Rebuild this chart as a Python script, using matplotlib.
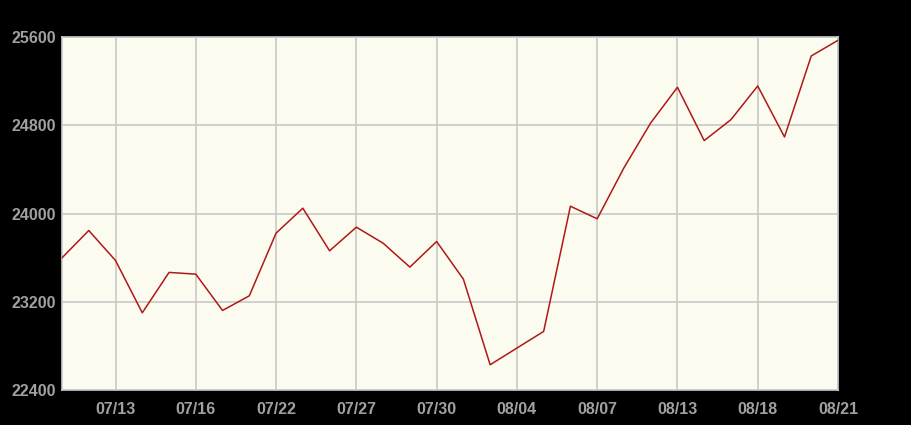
import matplotlib
matplotlib.use("Agg")
import matplotlib.pyplot as plt

dates = ["07/09", "07/12", "07/13", "07/14", "07/15", "07/16", "07/19", "07/20",
         "07/22", "07/23", "07/26", "07/27", "07/28", "07/29", "07/30", "08/02",
         "08/03", "08/04", "08/05", "08/06", "08/07", "08/10", "08/11", "08/13",
         "08/16", "08/17", "08/18", "08/19", "08/20", "08/21"]
values = [23598, 23846, 23574, 23100, 23466, 23450, 23121, 23254,
          23822, 24048, 23662, 23876, 23731, 23514, 23746, 23405,
          22629, 22780, 22931, 24066, 23952, 24414, 24821, 25144,
          24661, 24851, 25156, 24694, 25428, 25570]
y_ticks = [22400, 23200, 24000, 24800, 25600]

fig = plt.figure(figsize=(9.12, 4.25), dpi=100, facecolor="black")
ax = fig.add_axes([62/912, 1 - 390/425, (838-62)/912, (390-37)/425])
ax.set_facecolor("#fbfbef")

x = list(range(len(dates)))
ax.plot(x, values, color="#b01818", linewidth=1.1, zorder=3)

ax.set_xlim(0, len(dates) - 1)
ax.set_ylim(y_ticks[0], y_ticks[-1])
tick_idx = list(range(2, len(dates), 3))
ax.set_xticks(tick_idx)
ax.set_xticklabels([dates[i] for i in tick_idx])
ax.set_yticks(y_ticks)
ax.set_yticklabels([str(v) for v in y_ticks])

ax.grid(True, color="#c8c8c8", linewidth=1.2, zorder=1)
for s in ax.spines.values():
    s.set_color("#cccccc")
    s.set_linewidth(1.2)
ax.tick_params(length=0, pad=4, colors="#a0a0a0")
for lbl in ax.get_xticklabels() + ax.get_yticklabels():
    lbl.set_fontfamily("Liberation Sans")
    lbl.set_fontweight("bold")
    lbl.set_fontsize(11.5)
    lbl.set_color("#a0a0a0")
ax.tick_params(axis="x", pad=9)
ax.tick_params(axis="y", pad=4)

fig.savefig("out.png", dpi=100, facecolor="black")
